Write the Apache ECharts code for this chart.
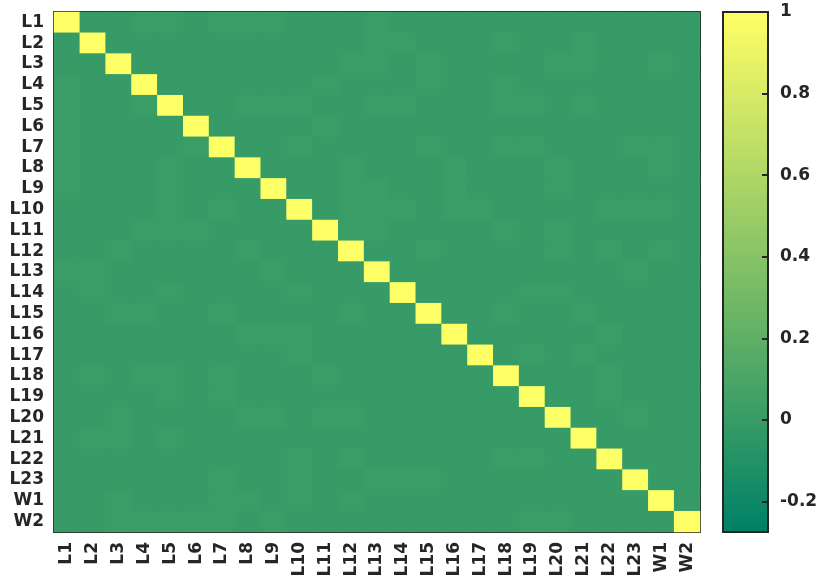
<!DOCTYPE html>
<html>
<head>
<meta charset="utf-8">
<script src="https://cdn.jsdelivr.net/npm/echarts@6/dist/echarts.min.js"></script>
<style>
  html, body { margin: 0; padding: 0; background: #fff; }
  #main { width: 825px; height: 585px; }
</style>
</head>
<body>
<div id="main"></div>
<script>
const labels = ['L1', 'L2', 'L3', 'L4', 'L5', 'L6', 'L7', 'L8', 'L9', 'L10', 'L11', 'L12',
  'L13', 'L14', 'L15', 'L16', 'L17', 'L18', 'L19', 'L20', 'L21', 'L22', 'L23', 'W1', 'W2'];

// off-diagonal values: o = plain cell, h = slightly lighter cell
const o = -0.005, h = 0.012;
const corr = [
  [1,o,o,h,h,o,h,h,h,o,o,o,h,o,o,o,o,o,o,o,o,o,o,o,o],
  [o,1,o,o,o,o,o,o,o,o,o,o,h,h,o,o,o,h,o,o,h,o,o,o,o],
  [o,o,1,o,o,o,o,o,o,o,o,h,h,o,h,o,o,o,o,h,h,o,o,h,o],
  [h,o,o,1,o,o,o,o,o,o,h,o,o,o,h,o,o,h,o,o,o,o,o,o,o],
  [h,o,o,h,1,o,o,h,h,h,o,o,h,h,o,o,o,h,h,o,h,o,o,o,o],
  [h,o,o,o,o,1,o,o,o,o,h,o,o,o,o,o,o,o,o,o,o,o,o,o,o],
  [h,o,o,o,o,h,1,o,o,h,o,o,o,o,h,o,o,h,h,o,o,o,h,h,o],
  [h,o,o,o,h,o,o,1,o,o,o,h,o,o,o,h,o,o,o,h,o,o,o,h,o],
  [h,o,o,o,h,o,o,o,1,o,o,h,h,o,o,h,o,o,o,h,o,o,o,o,o],
  [o,o,o,o,h,o,h,o,o,1,o,h,h,h,o,h,h,o,o,o,o,h,h,h,o],
  [o,o,o,h,h,h,o,o,o,o,1,h,h,o,o,o,o,h,o,h,o,o,o,o,o],
  [o,o,h,o,o,o,o,h,o,o,o,1,o,o,h,o,o,o,o,h,o,h,o,h,o],
  [h,h,o,o,o,o,o,o,h,o,o,o,1,o,o,o,o,o,o,o,o,o,h,o,o],
  [o,h,o,o,h,o,o,o,o,h,o,o,o,1,o,o,o,o,h,h,o,o,o,o,o],
  [o,o,h,h,o,o,h,o,o,o,o,h,o,o,1,o,o,h,o,o,h,o,o,o,o],
  [o,o,o,o,o,o,o,h,h,h,o,o,o,o,o,1,o,o,o,o,o,h,o,o,o],
  [o,o,o,o,o,o,o,o,o,h,o,o,o,o,o,o,1,o,h,o,h,o,o,o,o],
  [o,h,o,h,h,o,h,o,o,o,h,o,o,o,o,o,o,1,o,o,o,h,o,o,o],
  [o,o,o,o,h,o,h,o,o,o,o,o,o,o,o,o,o,o,1,o,o,h,o,o,o],
  [o,o,h,o,o,o,o,h,h,o,h,h,o,o,o,o,o,o,o,1,o,o,h,o,o],
  [o,h,h,o,h,o,o,o,o,o,o,o,o,o,o,o,o,o,o,o,1,o,o,o,o],
  [o,o,o,o,o,o,o,o,o,h,o,h,o,o,o,o,o,h,h,o,o,1,o,o,o],
  [o,o,o,o,o,o,h,o,o,h,o,o,h,h,h,o,o,o,o,o,o,o,1,o,o],
  [o,o,h,o,o,o,h,h,o,h,o,h,o,o,o,o,o,o,o,o,o,o,o,1,o],
  [o,o,h,h,h,h,h,o,h,o,o,o,o,o,o,o,o,o,h,h,o,o,o,o,1]
];
const colorMin = -0.275, colorMax = 1;
const barTicks = [-0.2, 0, 0.2, 0.4, 0.6, 0.8, 1];

let data = [];
for (let i = 0; i < corr.length; i++) {
  for (let j = 0; j < corr[i].length; j++) {
    data.push([j, i, corr[i][j]]);
  }
}

const ink = '#262626';
const lab = { color: ink, fontFamily: 'DejaVu Sans', fontWeight: 'bold', fontSize: 17 };

let myChart = echarts.init(document.getElementById('main'));
let option = {
  animation: false,
  grid: [
    // background matches the near-zero cell colour so cell seams do not show
    { left: 54, top: 12, width: 646, height: 520, show: true, borderWidth: 0, backgroundColor: '#369a66' },
    { left: 723, top: 12, width: 45, height: 520, show: true, z: 5,
      borderColor: ink, borderWidth: 2, backgroundColor: 'transparent' }
  ],
  xAxis: [
    {
      type: 'category', data: labels, gridIndex: 0, position: 'bottom',
      axisLine: { lineStyle: { color: ink, width: 2 } },
      axisTick: { inside: true, length: 6, alignWithLabel: true, lineStyle: { color: ink, width: 2 } },
      axisLabel: Object.assign({ rotate: 90, interval: 0, margin: 10 }, lab),
      splitLine: { show: false }
    },
    {
      type: 'category', data: labels, gridIndex: 0, position: 'top',
      axisLine: { lineStyle: { color: ink, width: 2 } },
      axisTick: { inside: true, length: 6, alignWithLabel: true, lineStyle: { color: ink, width: 2 } },
      axisLabel: { show: false }
    },
    { type: 'value', gridIndex: 1, show: false, min: 0, max: 1 }
  ],
  yAxis: [
    {
      type: 'category', data: labels, gridIndex: 0, inverse: true, position: 'left',
      axisLine: { lineStyle: { color: ink, width: 2 } },
      axisTick: { inside: true, length: 6, alignWithLabel: true, lineStyle: { color: ink, width: 2 } },
      axisLabel: Object.assign({ interval: 0, margin: 10 }, lab)
    },
    {
      type: 'category', data: labels, gridIndex: 0, inverse: true, position: 'right',
      axisLine: { lineStyle: { color: ink, width: 2 } },
      axisTick: { inside: true, length: 6, alignWithLabel: true, lineStyle: { color: ink, width: 2 } },
      axisLabel: { show: false }
    },
    {
      type: 'value', gridIndex: 1, position: 'right', min: colorMin, max: colorMax, z: 6,
      axisLine: { show: true, onZero: false, lineStyle: { color: ink, width: 2 } },
      axisTick: { show: true, inside: true, length: 6, customValues: barTicks, lineStyle: { color: ink, width: 2 } },
      axisLabel: Object.assign({ customValues: barTicks, margin: 12 }, lab),
      splitLine: { show: false }
    }
  ],
  visualMap: {
    type: 'continuous', seriesIndex: 0, min: colorMin, max: colorMax, z: 1,
    calculable: false, orient: 'vertical', left: 723, top: 12, padding: 0,
    itemWidth: 45, itemHeight: 520, hoverLink: false,
    inRange: { color: ['#008066', '#ffff66'] }
  },
  series: [{
    type: 'heatmap', xAxisIndex: 0, yAxisIndex: 0, data: data,
    emphasis: { disabled: true }
  }]
};
myChart.setOption(option);
window.addEventListener('resize', function () {
  myChart.resize();
});
</script>
</body>
</html>
